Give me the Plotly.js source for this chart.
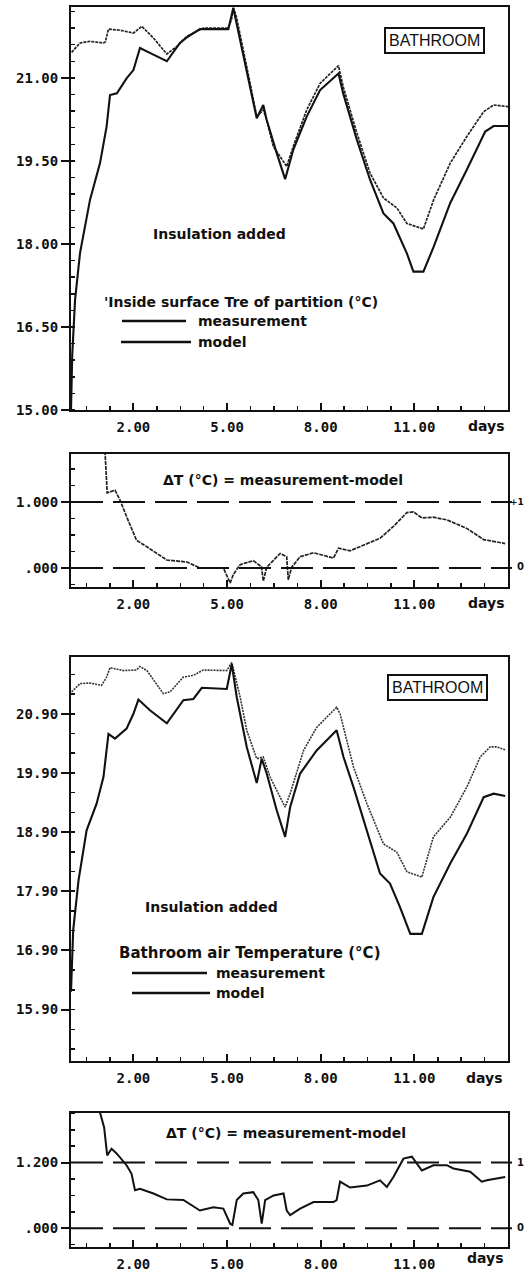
<!DOCTYPE html>
<html>
<head>
<meta charset="utf-8">
<script src="https://cdn.plot.ly/plotly-3.0.1.min.js"></script>
<style>html,body{margin:0;padding:0;background:#fff;}#chart{width:526px;height:1271px;}</style>
</head>
<body>
<div id="chart"></div>
<script>
// ---------- DATA ----------
// Panel 1: inside surface temperature of partition (°C)
const days1Meas = [0.02,0.29,0.60,1.04,1.10,1.20,1.57,2.00,2.27,2.64,3.07,3.40,3.71,4.24,5.04,5.14,5.20,5.30,5.63,5.95,6.16,6.27,6.48,6.91,7.12,7.55,7.98,8.41,8.57,8.72,9.16,9.58,10.01,10.44,10.76,11.29,11.62,12.15,12.68,13.22,13.54,14.0];
const temp1Meas = [21.46,21.63,21.66,21.63,21.65,21.88,21.86,21.81,21.93,21.72,21.43,21.57,21.75,21.90,21.90,22.05,22.27,22.10,21.20,20.30,20.42,20.24,19.76,19.40,19.76,20.42,20.90,21.14,21.22,20.84,20.00,19.28,18.83,18.65,18.37,18.27,18.80,19.46,19.94,20.39,20.51,20.48];
const days1Mod = [0.0,0.04,0.13,0.29,0.61,0.93,1.14,1.25,1.47,1.78,2.00,2.21,2.64,3.07,3.49,3.71,4.13,5.04,5.20,5.63,5.95,6.16,6.27,6.59,6.86,7.12,7.55,7.98,8.57,8.72,9.16,9.58,10.01,10.33,10.76,10.97,11.29,11.62,12.15,12.68,13.27,13.54,14.0];
const temp1Mod = [15.0,16.0,16.99,17.84,18.80,19.46,20.12,20.69,20.72,20.99,21.14,21.54,21.42,21.30,21.63,21.73,21.88,21.88,22.26,21.14,20.27,20.51,20.24,19.64,19.17,19.70,20.30,20.78,21.08,20.72,19.88,19.16,18.55,18.37,17.83,17.50,17.50,17.95,18.74,19.34,20.03,20.13,20.13];

// Panel 2: ΔT = measurement - model (partition surface)
const d2Days = [1.08,1.10,1.16,1.41,1.57,1.78,2.10,2.43,3.07,3.71,4.13,4.88,5.10,5.20,5.42,5.84,6.10,6.16,6.27,6.70,6.91,6.96,7.07,7.34,7.77,8.41,8.57,8.94,9.48,9.90,10.33,10.76,10.97,11.24,11.60,12.04,12.68,13.22,13.91];
const d2Vals = [1.85,1.69,1.14,1.18,1.03,0.78,0.42,0.32,0.12,0.09,0.0,0.0,-0.23,-0.10,0.05,0.11,0.02,-0.20,0.01,0.22,0.17,-0.18,0.01,0.17,0.23,0.15,0.30,0.26,0.37,0.45,0.63,0.84,0.85,0.76,0.77,0.73,0.60,0.43,0.37];

// Panel 3: bathroom air temperature (°C)
const days3Meas = [0.02,0.29,0.61,0.98,1.14,1.25,1.68,2.10,2.21,2.43,2.96,3.17,3.60,3.92,4.24,4.99,5.15,5.42,5.63,5.95,6.16,6.38,6.86,7.02,7.45,7.87,8.51,8.62,9.05,9.48,10.01,10.44,10.76,11.24,11.61,12.15,12.68,13.11,13.43,13.64,13.91];
const temp3Meas = [21.27,21.41,21.42,21.38,21.52,21.68,21.63,21.64,21.70,21.63,21.24,21.27,21.52,21.55,21.64,21.63,21.77,21.18,20.62,20.14,20.17,19.83,19.32,19.55,20.28,20.67,21.01,20.90,20.00,19.38,18.70,18.56,18.23,18.14,18.82,19.15,19.66,20.17,20.34,20.34,20.29];
const days3Mod = [0.0,0.07,0.24,0.50,0.82,1.04,1.20,1.41,1.78,2.00,2.16,2.53,3.07,3.60,3.92,4.19,4.99,5.15,5.31,5.63,5.95,6.11,6.27,6.59,6.86,7.02,7.34,7.87,8.51,8.73,9.05,9.48,9.90,10.22,10.54,10.87,11.24,11.61,12.15,12.68,13.22,13.54,13.91];
const temp3Mod = [16.2,17.24,18.08,18.93,19.38,19.83,20.56,20.48,20.65,20.90,21.14,20.96,20.74,21.13,21.15,21.34,21.32,21.74,21.18,20.34,19.73,20.14,19.89,19.27,18.82,19.32,19.89,20.28,20.62,20.17,19.66,18.93,18.20,18.03,17.63,17.18,17.18,17.80,18.37,18.87,19.49,19.55,19.51];

// Panel 4: ΔT = measurement - model (air)
const d4Days = [0.93,1.06,1.16,1.30,1.46,1.78,1.94,2.05,2.21,2.64,3.07,3.60,4.13,4.56,4.88,5.10,5.17,5.31,5.52,5.84,6.00,6.11,6.22,6.49,6.81,6.91,7.02,7.34,7.77,8.41,8.51,8.62,8.94,9.48,9.90,10.12,10.33,10.65,10.92,11.24,11.61,12.04,12.25,12.79,13.16,13.32,13.91];
const d4Vals = [1.76,1.54,1.11,1.21,1.14,0.96,0.83,0.58,0.60,0.53,0.44,0.43,0.27,0.32,0.30,0.07,0.05,0.43,0.53,0.55,0.43,0.07,0.43,0.50,0.53,0.27,0.20,0.30,0.40,0.40,0.43,0.71,0.62,0.65,0.73,0.63,0.78,1.06,1.09,0.88,0.96,0.96,0.91,0.86,0.71,0.73,0.78];

// Tick labels
const xTickVals = [2,5,8,11];
const xTickText = ["2.00","5.00","8.00","11.00"];
const y1TickVals = [15,16.5,18,19.5,21];
const y1TickText = ["15.00","16.50","18.00","19.50","21.00"];
const y2TickVals = [0,1];
const y2TickText = [".000","1.000"];
const y3TickVals = [15.9,16.9,17.9,18.9,19.9,20.9];
const y3TickText = ["15.90","16.90","17.90","18.90","19.90","20.90"];
const y4TickVals = [0,1];
const y4TickText = [".000","1.200"];

// ---------- LAYOUT HELPERS ----------
const W = 526, H = 1271;
const px = x => x / W;
const py = y => 1 - y / H;
const tickFont = {family: 'DejaVu Sans Mono', size: 14, color: '#111', weight: 'bold'};
const xDom = [px(71), px(508)];

function xAxis(yName) {
  return {
    domain: xDom, anchor: yName, range: [0, 14],
    tickmode: 'array', tickvals: xTickVals, ticktext: xTickText,
    ticks: 'inside', ticklen: 7, tickwidth: 2, tickcolor: '#111',
    minor: {tickmode: 'linear', tick0: 2, dtick: 0.75, ticks: 'inside', ticklen: 4, tickwidth: 1.5, tickcolor: '#111', showgrid: false},
    showline: true, linecolor: '#111', linewidth: 2, mirror: true,
    showgrid: false, zeroline: false, tickfont: tickFont, ticklabelstandoff: 3, fixedrange: true
  };
}
function yAxis(xName, dom, range, vals, text, mtick0, mdtick) {
  return {
    domain: dom, anchor: xName, range: range,
    tickmode: 'array', tickvals: vals, ticktext: text,
    ticks: 'outside', ticklen: 8, tickwidth: 2, tickcolor: '#111',
    minor: {tickmode: 'linear', tick0: mtick0, dtick: mdtick, ticks: 'inside', ticklen: 4, tickwidth: 1.5, tickcolor: '#111', showgrid: false},
    showline: true, linecolor: '#111', linewidth: 2, mirror: true,
    showgrid: false, zeroline: false, tickfont: tickFont, ticklabelstandoff: 0, fixedrange: true
  };
}

const measLine = {color: '#222', width: 1.7, dash: '3px,1px'};
const modLine = {color: '#111', width: 2.1};

const traces = [
  {x: days1Meas, y: temp1Meas, xaxis: 'x', yaxis: 'y', mode: 'lines', line: measLine, name: 'measurement'},
  {x: days1Mod, y: temp1Mod, xaxis: 'x', yaxis: 'y', mode: 'lines', line: modLine, name: 'model'},
  {x: d2Days, y: d2Vals, xaxis: 'x2', yaxis: 'y2', mode: 'lines', line: {color: '#222', width: 1.7, dash: '4px,1px'}, name: 'ΔT'},
  {x: days3Meas, y: temp3Meas, xaxis: 'x3', yaxis: 'y3', mode: 'lines', line: {color: '#333', width: 1.6, dash: '2px,1px'}, name: 'measurement'},
  {x: days3Mod, y: temp3Mod, xaxis: 'x3', yaxis: 'y3', mode: 'lines', line: modLine, name: 'model'},
  {x: d4Days, y: d4Vals, xaxis: 'x4', yaxis: 'y4', mode: 'lines', line: {color: '#111', width: 2}, name: 'ΔT'}
];

const bold = (t) => '<b>' + t + '</b>';
function ann(text, x, y, xanchor, size, fam) {
  return {text: text, xref: 'paper', yref: 'paper', x: px(x), y: py(y), xanchor: xanchor || 'center', yanchor: 'middle', showarrow: false,
    font: {family: fam || 'DejaVu Sans', size: size || 12, color: '#111'}};
}
function boxAnn(x, y) {
  return {text: 'BATHROOM', xref: 'paper', yref: 'paper', x: px(x), y: py(y), xanchor: 'center', yanchor: 'middle', showarrow: false,
    font: {family: 'Liberation Sans', size: 16, color: '#111'}, bordercolor: '#111', borderwidth: 2, borderpad: 3, bgcolor: '#fff'};
}

const annotations = [
  boxAnn(434, 41),
  ann(bold('Insulation added'), 219, 234, 'center', 14),
  ann(bold("'Inside surface Tre of partition (°C)"), 102, 302, 'left', 14),
  ann(bold('measurement'), 196, 321, 'left', 14),
  ann(bold('model'), 196, 342, 'left', 14),
  ann(bold('days'), 486, 426, 'center', 14),
  ann(bold('ΔT (°C) = measurement-model'), 283, 480, 'center', 14),
  ann(bold('+1'), 508, 502, 'left', 9),
  ann(bold('0'), 515, 567, 'left', 10),
  ann(bold('days'), 486, 603, 'center', 14),
  boxAnn(437, 687),
  ann(bold('Insulation added'), 211, 907, 'center', 14),
  ann(bold('Bathroom air Temperature (°C)'), 117, 953, 'left', 15),
  ann(bold('measurement'), 214, 973, 'left', 14),
  ann(bold('model'), 214, 993, 'left', 14),
  ann(bold('days'), 484, 1078, 'center', 14),
  ann(bold('ΔT (°C) = measurement-model'), 286, 1133, 'center', 14),
  ann(bold('1'), 515, 1162, 'left', 10),
  ann(bold('0'), 515, 1227, 'left', 10),
  ann(bold('days'), 485, 1258, 'center', 14)
];

function legLine(x0, x1, y) {
  return {type: 'line', xref: 'paper', yref: 'paper', x0: px(x0), x1: px(x1), y0: py(y), y1: py(y), line: {color: '#111', width: 2.5}};
}
function dashLine(yref, val, x1) {
  return {type: 'line', xref: 'paper', yref: yref, x0: px(71), x1: px(x1), y0: val, y1: val, line: {color: '#111', width: 2, dash: '32px,10px'}};
}

const shapes = [
  legLine(122, 186, 321), legLine(121, 191, 342),
  legLine(132, 207, 973), legLine(132, 210, 993),
  dashLine('y2', 1, 512), dashLine('y2', 0, 512),
  dashLine('y4', 1, 512), dashLine('y4', 0, 512)
];

const layout = {
  width: W, height: H,
  margin: {l: 0, r: 0, t: 0, b: 0},
  paper_bgcolor: '#fff', plot_bgcolor: '#fff',
  showlegend: false,
  xaxis: xAxis('y'),
  yaxis: yAxis('x', [py(410), py(7)], [15, 22.28], y1TickVals, y1TickText, 15, 0.3),
  xaxis2: xAxis('y2'),
  yaxis2: yAxis('x2', [py(587), py(454)], [-0.29, 1.73], y2TickVals, y2TickText, 0, 0.25),
  xaxis3: xAxis('y3'),
  yaxis3: yAxis('x3', [py(1061), py(657)], [15.03, 21.86], y3TickVals, y3TickText, 15.9, 1/3),
  xaxis4: xAxis('y4'),
  yaxis4: yAxis('x4', [py(1247), py(1113)], [-0.285, 1.755], y4TickVals, y4TickText, 0, 0.25),
  annotations: annotations,
  shapes: shapes
};

Plotly.newPlot('chart', traces, layout, {staticPlot: true, displayModeBar: false});
</script>
</body>
</html>
